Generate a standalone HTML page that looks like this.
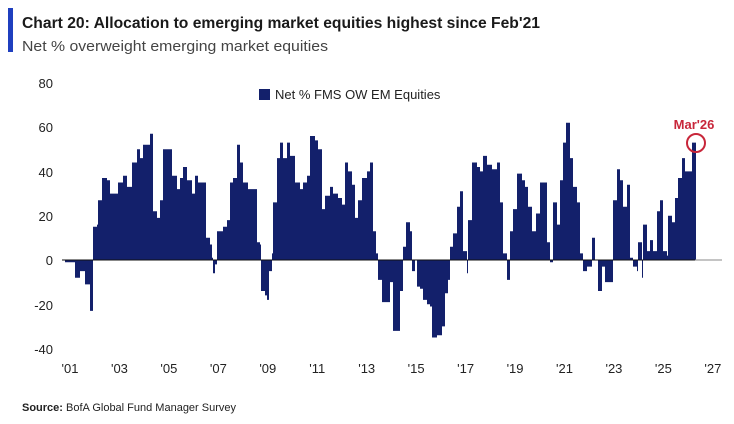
<!DOCTYPE html>
<html><head><meta charset="utf-8"><style>
body{margin:0;background:#fff;font-family:"Liberation Sans",sans-serif}
</style></head><body>
<svg width="734" height="419" xmlns="http://www.w3.org/2000/svg" font-family="Liberation Sans, sans-serif">
<rect x="8" y="8" width="5" height="44" fill="#1f3fbf"/>
<text x="22" y="28" font-size="16" font-weight="bold" fill="#1a1a1a" textLength="518" lengthAdjust="spacingAndGlyphs">Chart 20: Allocation to emerging market equities highest since Feb'21</text>
<text x="22" y="51" font-size="15" fill="#444" textLength="306" lengthAdjust="spacingAndGlyphs">Net % overweight emerging market equities</text>
<g font-size="13" fill="#222" text-anchor="end">
<text x="53" y="88">80</text><text x="53" y="132">60</text><text x="53" y="177">40</text><text x="53" y="221">20</text><text x="53" y="265">0</text><text x="53" y="310">-20</text><text x="53" y="354">-40</text>
</g>
<g font-size="13" fill="#222" text-anchor="middle" id="xl"></g>
<rect x="259" y="89" width="11" height="11" fill="#13206b"/>
<text x="275" y="99" font-size="13" fill="#222">Net % FMS OW EM Equities</text>
<path id="bars" fill="#13206b"/>
<line x1="62" y1="260" x2="722" y2="260" stroke="#888" stroke-width="1"/>
<line x1="62" y1="260" x2="695" y2="260" stroke="#111" stroke-width="1"/>
<text x="694" y="129" font-size="13" font-weight="bold" fill="#c8263a" text-anchor="middle">Mar'26</text>
<circle cx="696" cy="143" r="9" fill="none" stroke="#c8263a" stroke-width="2"/>
<text x="22" y="411" font-size="11" fill="#222"><tspan font-weight="bold">Source:</tspan> BofA Global Fund Manager Survey</text>
</svg>
<script>
var pts=[[65,-1],[75,-8],[80,-5],[85,-11],[90,-23],[93,15],[97,16],[98,27],[102,37],[107,36],[110,30],[115,30],[118,35],[123,38],[127,33],[132,44],[137,50],[140,46],[143,52],[150,57],[153,22],[157,19],[160,27],[163,50],[168,50],[172,38],[177,32],[180,37],[183,42],[187,36],[192,30],[195,38],[198,35],[203,35],[206,10],[210,7],[212,1],[213,-6],[215,-2],[217,13],[223,15],[227,18],[230,35],[233,37],[237,52],[240,44],[243,35],[248,32],[253,32],[257,8],[260,7],[261,-14],[265,-16],[267,-18],[269,-5],[272,3],[273,26],[277,46],[280,53],[283,46],[287,53],[290,47],[293,47],[295,35],[300,32],[303,35],[307,38],[310,56],[315,54],[318,50],[322,23],[325,29],[330,33],[333,30],[338,28],[342,25],[345,44],[348,40],[352,34],[355,19],[358,27],[362,37],[367,40],[370,44],[373,13],[376,3],[378,-9],[382,-19],[385,-19],[388,-19],[390,-10],[393,-32],[398,-32],[400,-14],[403,6],[406,17],[410,13],[412,-5],[415,0],[417,-12],[420,-13],[423,-18],[427,-20],[430,-21],[432,-35],[437,-34],[442,-30],[445,-15],[448,-9],[450,6],[453,12],[457,24],[460,31],[463,4],[467,-6],[468,18],[472,44],[477,42],[480,40],[483,47],[487,43],[492,41],[497,44],[500,26],[503,3],[507,-9],[510,13],[513,23],[517,39],[522,36],[525,33],[528,24],[532,13],[536,21],[540,35],[543,35],[547,8],[550,-1],[553,26],[557,16],[560,36],[563,53],[566,62],[570,46],[573,33],[577,26],[580,3],[583,-5],[587,-3],[592,10],[595,0],[598,-14],[602,-3],[605,-10],[610,-10],[613,27],[617,41],[620,36],[623,24],[627,34],[630,1],[633,-3],[637,-5],[638,8],[642,-8],[643,16],[647,4],[650,9],[653,4],[657,22],[660,27],[663,4],[667,2],[668,20],[672,17],[675,28],[678,37],[682,46],[685,40],[688,40],[692,53],[695,53]];
function Y(v){return 260-v*2.215}
var d="M"+pts[0][0]+",260";
for(var i=0;i<pts.length-1;i++){var y=Y(pts[i][1]).toFixed(1);d+=" L"+pts[i][0]+","+y+" L"+pts[i+1][0]+","+y;}
d+=" L695,"+Y(53).toFixed(1)+" L696,"+Y(53).toFixed(1)+" L696,260 Z";
document.getElementById("bars").setAttribute("d",d);
var g=document.getElementById("xl"),labs=["'01","'03","'05","'07","'09","'11","'13","'15","'17","'19","'21","'23","'25","'27"];
for(var k=0;k<labs.length;k++){var t=document.createElementNS("http://www.w3.org/2000/svg","text");t.setAttribute("x",70+k*49.45);t.setAttribute("y",373);t.textContent=labs[k];g.appendChild(t);}
</script>
</body></html>
